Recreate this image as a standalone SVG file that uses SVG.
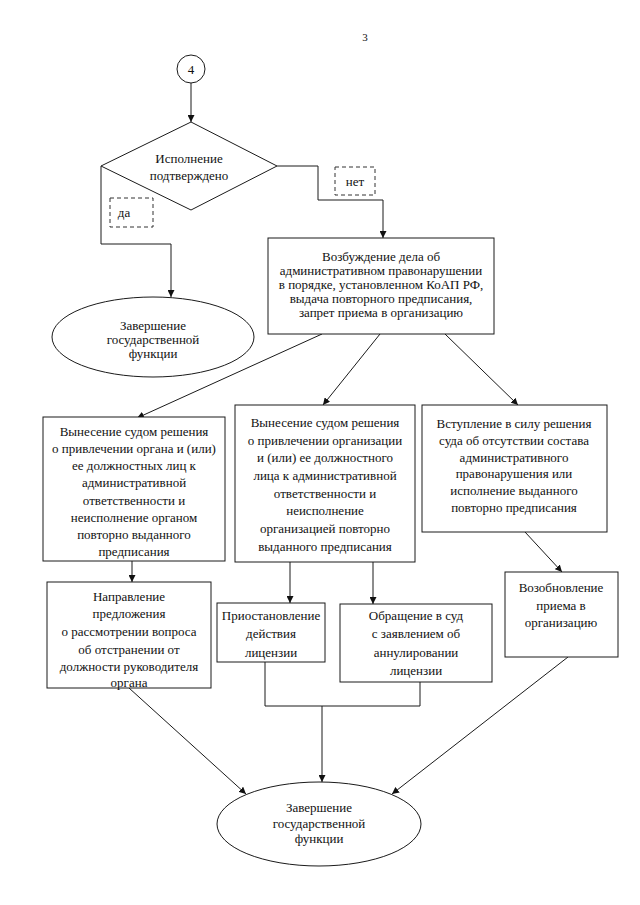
<svg xmlns="http://www.w3.org/2000/svg" width="640" height="905" viewBox="0 0 640 905">
<style>
  .s { fill: #fff; stroke: #1a1a1a; stroke-width: 1; }
  .d { fill: #fff; stroke: #333; stroke-width: 1; stroke-dasharray: 4 3; }
  .c { fill: none; stroke: #1a1a1a; stroke-width: 1; }
  text { font-family: "Liberation Serif", "Times New Roman", serif; font-size: 13px; fill: #111; text-anchor: middle; }
</style>
<defs>
  <marker id="ah" viewBox="0 0 10 10" refX="10" refY="5" markerWidth="7" markerHeight="7" orient="auto" markerUnits="userSpaceOnUse">
    <path d="M0,0 L10,5 L0,10 z" fill="#111"/>
  </marker>
</defs>
<rect width="640" height="905" fill="#fff"/>
<text x="365" y="41" style="font-size:11px">3</text>

<g id="connectors">
  <path class="c" d="M191,83 V122" marker-end="url(#ah)"/>
  <path class="c" d="M101,166 V244 H171 V297" marker-end="url(#ah)"/>
  <path class="c" d="M277,166 H318 V200 H383 V238" marker-end="url(#ah)"/>
  <path class="c" d="M322,334 L137,418" marker-end="url(#ah)"/>
  <path class="c" d="M380,334 L323,405" marker-end="url(#ah)"/>
  <path class="c" d="M445,334 L518,405" marker-end="url(#ah)"/>
  <path class="c" d="M132,561 V582" marker-end="url(#ah)"/>
  <path class="c" d="M290,562 V603" marker-end="url(#ah)"/>
  <path class="c" d="M373,562 V604" marker-end="url(#ah)"/>
  <path class="c" d="M525,532 L562,572" marker-end="url(#ah)"/>
  <path class="c" d="M265,662 V706 H420 V682"/>
  <path class="c" d="M322,706 V782" marker-end="url(#ah)"/>
  <path class="c" d="M129,688 L246,794" marker-end="url(#ah)"/>
  <path class="c" d="M568,657 L392,794" marker-end="url(#ah)"/>
</g>

<g id="start">
  <circle class="s" cx="191" cy="69" r="14"/>
  <text x="191" y="73.5">4</text>
</g>

<g id="decision">
  <polygon class="s" points="191,122 277,166 191,210 101,166"/>
  <text x="189" y="162.5">Исполнение</text>
  <text x="189" y="179.5">подтверждено</text>
</g>

<g id="label-yes">
  <rect class="d" x="110" y="198" width="43" height="29"/>
  <text x="124" y="217">да</text>
</g>

<g id="label-no">
  <rect class="d" x="335" y="167" width="40" height="28"/>
  <text x="355" y="185.5">нет</text>
</g>

<g id="end-top">
  <ellipse class="s" cx="153" cy="337" rx="101" ry="40"/>
  <text x="153" y="329.5">Завершение</text>
  <text x="153" y="343.5">государственной</text>
  <text x="153" y="357.5">функции</text>
</g>

<g id="proceedings">
  <rect class="s" x="268" y="238" width="226" height="96"/>
  <text x="381" y="260.5">Возбуждение дела об</text>
  <text x="381" y="274.5">административном правонарушении</text>
  <text x="381" y="288.5">в порядке, установленном КоАП РФ,</text>
  <text x="381" y="302.5">выдача повторного предписания,</text>
  <text x="381" y="316.5">запрет приема в организацию</text>
</g>

<g id="court-organ">
  <rect class="s" x="43" y="417" width="182" height="144"/>
  <text x="134" y="435.5">Вынесение судом решения</text>
  <text x="134" y="452.5">о привлечении органа и (или)</text>
  <text x="134" y="470">ее должностных лиц к</text>
  <text x="134" y="487">административной</text>
  <text x="134" y="504.5">ответственности и</text>
  <text x="134" y="521.5">неисполнение органом</text>
  <text x="134" y="539">повторно выданного</text>
  <text x="134" y="556">предписания</text>
</g>

<g id="court-org">
  <rect class="s" x="235" y="405" width="180" height="157"/>
  <text x="325" y="426.5">Вынесение судом решения</text>
  <text x="325" y="444.5">о привлечении организации</text>
  <text x="325" y="462">и (или) ее должностного</text>
  <text x="325" y="479.5">лица к административной</text>
  <text x="325" y="497.5">ответственности и</text>
  <text x="325" y="515">неисполнение</text>
  <text x="325" y="533">организацией  повторно</text>
  <text x="325" y="551">выданного предписания</text>
</g>

<g id="court-none">
  <rect class="s" x="422" y="405" width="185" height="127"/>
  <text x="514" y="427.5">Вступление в силу решения</text>
  <text x="514" y="444.5">суда об отсутствии состава</text>
  <text x="514" y="461.5">административного</text>
  <text x="514" y="477.5">правонарушения или</text>
  <text x="514" y="494.5">исполнение выданного</text>
  <text x="514" y="511.5">повторно предписания</text>
</g>

<g id="proposal">
  <rect class="s" x="47" y="582" width="164" height="106"/>
  <text x="129" y="600.5">Направление</text>
  <text x="129" y="618">предложения</text>
  <text x="129" y="636">о рассмотрении вопроса</text>
  <text x="129" y="653.5">об отстранении от</text>
  <text x="129" y="671">должности руководителя</text>
  <text x="129" y="687">органа</text>
</g>

<g id="suspend">
  <rect class="s" x="217" y="603" width="108" height="59"/>
  <text x="271" y="619.5">Приостановление</text>
  <text x="271" y="637.5">действия</text>
  <text x="271" y="656.5">лицензии</text>
</g>

<g id="annul">
  <rect class="s" x="340" y="604" width="152" height="78"/>
  <text x="416" y="619.5">Обращение в суд</text>
  <text x="416" y="637.5">с заявлением об</text>
  <text x="416" y="656.5">аннулировании</text>
  <text x="416" y="674.5">лицензии</text>
</g>

<g id="resume">
  <rect class="s" x="505" y="572" width="113" height="85"/>
  <text x="561" y="591.5">Возобновление</text>
  <text x="561" y="609.5">приема в</text>
  <text x="561" y="626.5">организацию</text>
</g>

<g id="end-bottom">
  <ellipse class="s" cx="319" cy="824" rx="102" ry="42"/>
  <text x="319" y="811.5">Завершение</text>
  <text x="319" y="827.5">государственной</text>
  <text x="319" y="842.5">функции</text>
</g>
</svg>
